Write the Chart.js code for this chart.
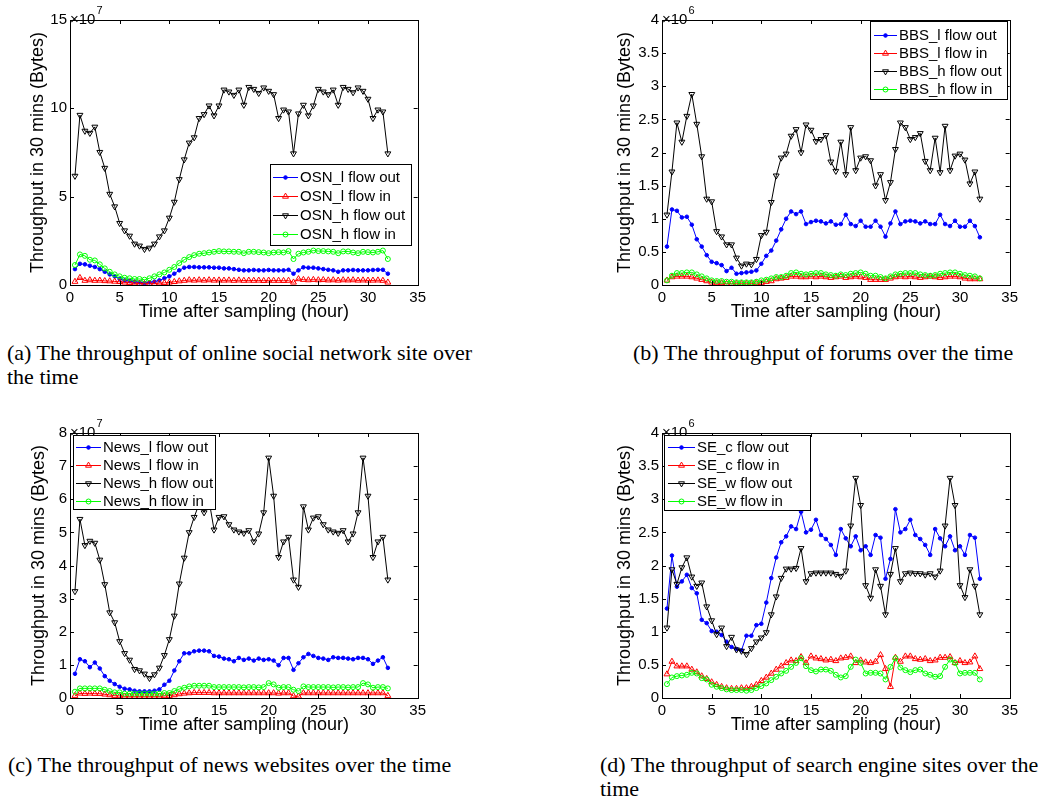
<!DOCTYPE html>
<html>
<head>
<meta charset="utf-8">
<title>Throughput over time</title>
<script src="https://cdn.jsdelivr.net/npm/chart.js@4.4.1/dist/chart.umd.min.js"></script>
<style>
  html, body { margin: 0; padding: 0; background: #fff; }
  body { width: 1053px; height: 798px; position: relative; overflow: hidden; }
  canvas { position: absolute; }
  .cap {
    position: absolute;
    font-family: "Liberation Serif", "Times New Roman", serif;
    font-size: 22px;
    line-height: 24px;
    color: #000;
    white-space: nowrap;
  }
</style>
</head>
<body>
<canvas id="chartA" width="430" height="330" style="left:0px;top:0px"></canvas>
<canvas id="chartB" width="430" height="330" style="left:592px;top:0px"></canvas>
<canvas id="chartC" width="430" height="330" style="left:0px;top:413px"></canvas>
<canvas id="chartD" width="430" height="330" style="left:592px;top:413px"></canvas>

<div class="cap" style="left:7px;top:341px">(a) The throughput of online social network site over<br>the time</div>
<div class="cap" style="left:633px;top:341px">(b) The throughput of forums over the time</div>
<div class="cap" style="left:8px;top:753px">(c) The throughput of news websites over the time</div>
<div class="cap" style="left:600px;top:753px">(d) The throughput of search engine sites over the<br>time</div>

<script>
// sampling times (hour)
const hours = [0.5,1,1.5,2,2.5,3,3.5,4,4.5,5,5.5,6,6.5,7,7.5,8,8.5,9,9.5,10,
  10.5,11,11.5,12,12.5,13,13.5,14,14.5,15,15.5,16,16.5,17,17.5,18,18.5,19,19.5,20,
  20.5,21,21.5,22,22.5,23,23.5,24,24.5,25,25.5,26,26.5,27,27.5,28,28.5,29,29.5,30,
  30.5,31,31.5,32];

const xTicks = [0, 5, 10, 15, 20, 25, 30, 35];
const osnTicks = [0, 5, 10, 15];
const bbsTicks = [0, 0.5, 1, 1.5, 2, 2.5, 3, 3.5, 4];
const newsTicks = [0, 1, 2, 3, 4, 5, 6, 7, 8];
const seTicks = [0, 0.5, 1, 1.5, 2, 2.5, 3, 3.5, 4];

// (a) online social network, x 10^7
const osnNames = ['OSN_l flow out', 'OSN_l flow in', 'OSN_h flow out', 'OSN_h flow in'];
const osnLOut = [0.9,1.2,1.17,1.09,1.02,0.9,0.75,0.6,0.49,0.34,
  0.26,0.23,0.19,0.15,0.11,0.15,0.19,0.26,0.38,0.49,
  0.64,0.83,0.98,1.02,1.02,1.0,1.0,1.0,0.98,0.98,
  0.94,0.94,0.9,0.86,0.83,0.83,0.85,0.83,0.83,0.85,
  0.83,0.83,0.83,0.86,0.64,0.83,1.0,0.98,0.98,0.94,
  0.9,0.86,0.83,0.75,0.83,0.83,0.85,0.83,0.83,0.83,
  0.85,0.86,0.86,0.64];
const osnLIn = [0.19,0.41,0.25,0.28,0.25,0.26,0.23,0.22,0.2,0.18,
  0.15,0.12,0.1,0.08,0.07,0.07,0.08,0.1,0.12,0.15,
  0.18,0.22,0.25,0.28,0.26,0.28,0.26,0.28,0.26,0.27,
  0.26,0.27,0.25,0.27,0.25,0.26,0.25,0.26,0.24,0.26,
  0.25,0.25,0.24,0.25,0.15,0.34,0.3,0.28,0.3,0.28,
  0.29,0.27,0.28,0.26,0.28,0.27,0.28,0.26,0.27,0.26,
  0.26,0.27,0.25,0.15];
const osnHOut = [6.17,9.62,8.72,8.6,8.95,7.52,6.62,5.15,4.44,3.5,
  3.08,2.78,2.33,2.22,2.03,2.1,2.33,2.74,3.08,3.8,
  4.7,5.98,7.1,8.05,8.35,9.44,9.66,10.15,9.59,10.15,
  11.05,10.94,10.75,11.05,10.19,11.2,11.09,10.86,11.17,10.98,
  10.79,9.44,9.92,9.81,7.44,9.7,10.19,9.59,10.15,11.09,
  10.94,10.79,11.05,10.19,11.2,11.09,10.9,11.17,10.98,10.53,
  9.44,9.92,9.81,7.44];
const osnHIn = [1.13,1.73,1.65,1.43,1.39,1.17,0.94,0.75,0.6,0.49,
  0.41,0.38,0.34,0.34,0.3,0.38,0.49,0.6,0.71,0.86,
  1.02,1.24,1.43,1.58,1.69,1.77,1.8,1.84,1.88,1.92,
  1.9,1.9,1.88,1.88,1.8,1.88,1.88,1.86,1.84,1.8,
  1.84,1.86,1.84,1.92,1.47,1.77,1.84,1.88,1.95,1.92,
  1.92,1.9,1.88,1.8,1.9,1.9,1.84,1.8,1.88,1.86,
  1.84,1.88,1.95,1.47];

// (b) forums, x 10^6
const bbsNames = ['BBS_l flow out', 'BBS_l flow in', 'BBS_h flow out', 'BBS_h flow in'];
const bbsLOut = [0.58,1.14,1.12,1.02,1.03,0.91,0.69,0.58,0.45,0.35,
  0.33,0.3,0.21,0.26,0.17,0.18,0.19,0.2,0.22,0.32,
  0.44,0.52,0.67,0.84,1.0,1.11,1.07,1.11,0.92,0.95,
  0.97,0.96,0.93,0.96,0.91,0.92,1.06,0.92,0.89,0.97,
  0.88,0.88,0.97,0.88,0.73,0.93,1.11,0.92,0.96,0.97,
  0.96,0.93,0.96,0.92,0.92,1.06,0.92,0.89,0.97,0.88,
  0.88,0.97,0.89,0.72];
const bbsLIn = [0.07,0.12,0.13,0.13,0.13,0.12,0.1,0.08,0.06,0.04,
  0.03,0.03,0.02,0.02,0.02,0.02,0.02,0.02,0.03,0.03,
  0.05,0.06,0.09,0.1,0.11,0.13,0.13,0.12,0.12,0.13,
  0.12,0.13,0.12,0.11,0.12,0.13,0.11,0.12,0.13,0.12,
  0.11,0.08,0.08,0.08,0.08,0.1,0.12,0.13,0.12,0.13,
  0.12,0.11,0.12,0.13,0.12,0.11,0.12,0.13,0.13,0.12,
  0.1,0.09,0.09,0.09];
const bbsHOut = [1.06,1.71,2.45,2.16,2.55,2.88,2.43,1.94,1.3,1.26,
  0.81,0.73,0.61,0.61,0.41,0.29,0.32,0.31,0.39,0.75,
  0.8,1.25,1.65,1.92,1.98,2.25,2.35,2.0,2.42,2.34,
  2.17,2.2,2.26,1.86,1.72,2.16,1.67,2.38,1.73,1.92,
  1.94,1.88,1.5,1.67,1.28,1.55,2.05,2.45,2.38,2.2,
  2.23,2.29,1.87,1.73,2.22,1.7,2.4,1.73,1.95,1.98,
  1.89,1.53,1.71,1.3];
const bbsHIn = [0.07,0.14,0.18,0.18,0.19,0.19,0.16,0.13,0.1,0.07,
  0.06,0.06,0.05,0.05,0.04,0.04,0.04,0.04,0.05,0.07,
  0.08,0.1,0.12,0.12,0.14,0.18,0.19,0.17,0.16,0.17,
  0.18,0.18,0.16,0.15,0.14,0.16,0.15,0.17,0.18,0.19,
  0.17,0.14,0.14,0.12,0.1,0.13,0.16,0.17,0.18,0.18,
  0.18,0.16,0.15,0.14,0.15,0.17,0.18,0.19,0.19,0.17,
  0.15,0.14,0.13,0.1];

// (c) news websites, x 10^7
const newsNames = ['News_l flow out', 'News_l flow in', 'News_h flow out', 'News_h flow in'];
const newsLOut = [0.73,1.17,1.11,0.93,1.07,0.89,0.66,0.52,0.42,0.34,
  0.28,0.26,0.22,0.2,0.2,0.2,0.22,0.26,0.4,0.52,
  0.83,1.11,1.35,1.35,1.41,1.43,1.43,1.41,1.27,1.25,
  1.19,1.17,1.11,1.21,1.15,1.19,1.13,1.19,1.15,1.17,
  1.13,0.99,1.21,1.21,0.85,1.05,1.23,1.33,1.27,1.21,
  1.19,1.15,1.23,1.21,1.21,1.19,1.17,1.21,1.21,1.17,
  1.03,1.13,1.23,0.91];
const newsLIn = [0.07,0.14,0.13,0.14,0.13,0.13,0.11,0.09,0.07,0.06,
  0.05,0.05,0.05,0.05,0.05,0.05,0.05,0.05,0.06,0.07,
  0.09,0.12,0.14,0.15,0.16,0.16,0.16,0.16,0.15,0.15,
  0.15,0.15,0.15,0.15,0.15,0.15,0.15,0.15,0.15,0.15,
  0.15,0.14,0.15,0.15,0.06,0.05,0.15,0.15,0.15,0.15,
  0.15,0.15,0.15,0.15,0.15,0.15,0.15,0.15,0.15,0.15,
  0.15,0.15,0.15,0.07];
const newsHOut = [3.22,5.4,4.61,4.74,4.68,4.17,3.43,2.58,2.28,1.71,
  1.35,1.15,0.87,0.83,0.73,0.6,0.71,0.91,1.29,1.77,
  2.48,3.45,4.23,5.0,5.46,5.86,5.6,5.96,5.08,5.46,
  5.48,5.24,5.08,5.02,4.98,5.06,4.72,4.96,5.6,7.25,
  6.1,4.25,4.72,4.86,3.57,3.35,5.78,5.08,5.44,5.48,
  5.24,5.08,5.02,4.98,5.06,4.72,4.96,5.6,7.25,6.1,
  4.25,4.72,4.86,3.57];
const newsHIn = [0.19,0.29,0.29,0.29,0.29,0.29,0.25,0.21,0.17,0.17,
  0.13,0.13,0.13,0.13,0.13,0.13,0.13,0.13,0.15,0.15,
  0.21,0.27,0.31,0.35,0.37,0.37,0.37,0.37,0.33,0.33,
  0.33,0.33,0.33,0.33,0.32,0.33,0.33,0.32,0.33,0.45,
  0.41,0.31,0.33,0.33,0.25,0.21,0.35,0.33,0.33,0.33,
  0.33,0.33,0.32,0.33,0.33,0.32,0.33,0.33,0.45,0.41,
  0.31,0.33,0.33,0.29];

// (d) search engines, x 10^6
const seNames = ['SE_c flow out', 'SE_c flow in', 'SE_w flow out', 'SE_w flow in'];
const seCOut = [1.35,2.15,1.68,1.76,1.86,1.66,1.58,1.18,1.13,1.01,
  1.0,0.95,0.85,0.77,0.74,0.72,0.94,0.94,1.1,1.12,
  1.44,1.81,2.12,2.35,2.44,2.59,2.55,2.81,2.5,2.54,
  2.69,2.46,2.4,2.31,2.16,2.55,2.41,2.29,2.44,2.23,
  2.29,2.16,2.46,2.42,1.8,2.1,2.85,2.5,2.55,2.69,
  2.46,2.4,2.31,2.16,2.55,2.41,2.29,2.44,2.23,2.29,
  2.16,2.46,2.42,1.8];
const seCIn = [0.36,0.55,0.48,0.48,0.48,0.43,0.39,0.33,0.29,0.24,
  0.2,0.17,0.15,0.14,0.14,0.15,0.15,0.17,0.2,0.26,
  0.31,0.37,0.43,0.48,0.53,0.57,0.56,0.62,0.53,0.63,
  0.6,0.59,0.57,0.58,0.56,0.6,0.61,0.63,0.53,0.57,
  0.54,0.53,0.55,0.65,0.44,0.17,0.61,0.55,0.63,0.63,
  0.59,0.58,0.59,0.56,0.57,0.61,0.61,0.62,0.53,0.56,
  0.53,0.54,0.63,0.44];
const seWOut = [1.06,1.94,1.72,1.97,2.12,1.83,1.69,1.74,1.38,1.17,
  0.96,1.06,0.78,0.92,0.73,0.71,0.66,0.75,0.85,0.91,
  0.99,1.26,1.53,1.81,1.95,1.95,1.96,2.26,1.76,1.88,
  1.89,1.89,1.89,1.89,1.87,1.84,1.92,2.6,3.32,2.91,
  1.7,1.51,1.94,1.69,1.26,1.87,2.26,1.76,1.88,1.89,
  1.88,1.88,1.86,1.88,1.83,1.92,2.6,3.32,2.91,1.7,
  1.52,1.94,1.69,1.26];
const seWIn = [0.21,0.31,0.33,0.34,0.35,0.38,0.37,0.3,0.28,0.2,
  0.17,0.15,0.13,0.12,0.12,0.12,0.11,0.12,0.15,0.18,
  0.22,0.27,0.32,0.37,0.41,0.47,0.53,0.6,0.48,0.42,
  0.4,0.43,0.43,0.41,0.35,0.31,0.33,0.47,0.58,0.53,
  0.37,0.38,0.38,0.37,0.28,0.47,0.6,0.46,0.42,0.39,
  0.42,0.43,0.37,0.35,0.32,0.33,0.47,0.58,0.53,0.37,
  0.38,0.38,0.38,0.28];

const SANS = '"Liberation Sans", Arial, Helvetica, sans-serif';

// matlab-ish line specs: '.-b', '^-r', 'v-k', 'o-g'
const styles = [
  { color: '#0000ff', pointStyle: 'circle', radius: 1.8, filled: true },
  { color: '#ff0000', pointStyle: 'triangle', radius: 3.4 },
  { color: '#000000', pointStyle: 'triangle', rotation: 180, radius: 3.4 },
  { color: '#00ff00', pointStyle: 'circle', radius: 2.5 }
];

// box, inward ticks, exponent and legend drawn on top
const matlabAxes = {
  id: 'matlabAxes',
  afterDraw(chart, args, opts) {
    const { ctx, chartArea: a, scales } = chart;
    const px = v => Math.round(v) + 0.5;
    ctx.save();
    ctx.strokeStyle = '#000';
    ctx.lineWidth = 1;

    ctx.strokeRect(px(a.left), px(a.top), Math.round(a.right - a.left), Math.round(a.bottom - a.top));

    const tl = 4;
    ctx.beginPath();
    scales.x.ticks.forEach(t => {
      const x = px(scales.x.getPixelForValue(t.value));
      ctx.moveTo(x, a.bottom); ctx.lineTo(x, a.bottom - tl);
      ctx.moveTo(x, a.top); ctx.lineTo(x, a.top + tl);
    });
    scales.y.ticks.forEach(t => {
      const y = px(scales.y.getPixelForValue(t.value));
      ctx.moveTo(a.left, y); ctx.lineTo(a.left + tl, y);
      ctx.moveTo(a.right, y); ctx.lineTo(a.right - tl, y);
    });
    ctx.stroke();

    // exponent label
    ctx.fillStyle = '#000';
    ctx.textAlign = 'left';
    ctx.textBaseline = 'alphabetic';
    ctx.font = '15px ' + SANS;
    ctx.fillText('\u00d710', a.left, a.top + 4);
    const w = ctx.measureText('\u00d710').width;
    ctx.font = '11px ' + SANS;
    ctx.fillText(opts.exponent, a.left + w + 1, a.top - 6);

    // legend
    const L = opts.legend;
    const bx = Math.round(a.left + L.left), by = Math.round(a.top + L.top);
    ctx.fillStyle = '#fff';
    ctx.fillRect(bx, by, L.width, L.height);
    ctx.strokeStyle = '#000';
    ctx.strokeRect(bx + 0.5, by + 0.5, L.width, L.height);
    chart.data.datasets.forEach((ds, i) => {
      const ry = Math.round(by + L.first + i * L.step) + 0.5;
      ctx.strokeStyle = ds.borderColor;
      ctx.lineWidth = 1;
      ctx.beginPath();
      ctx.moveTo(bx + L.l0, ry);
      ctx.lineTo(bx + L.l1, ry);
      ctx.stroke();
      ctx.fillStyle = ds.pointBackgroundColor;
      Chart.helpers.drawPoint(ctx, {
        pointStyle: ds.pointStyle,
        rotation: ds.pointRotation || 0,
        radius: ds.pointRadius,
        borderWidth: 1
      }, bx + (L.l0 + L.l1) / 2, ry);
      ctx.fillStyle = '#000';
      ctx.font = '15px ' + SANS;
      ctx.textBaseline = 'middle';
      ctx.fillText(ds.label, bx + L.tx, ry);
    });
    ctx.restore();
  }
};

function buildChart(id, names, series, yTicks, exponent, legend, yTitlePad) {
  const datasets = series.map((vals, i) => {
    const s = styles[i];
    return {
      label: names[i],
      data: hours.map((h, k) => ({ x: h, y: vals[k] })),
      borderColor: s.color,
      borderWidth: 1,
      pointStyle: s.pointStyle,
      pointRotation: s.rotation || 0,
      pointRadius: s.radius,
      pointBorderColor: s.color,
      pointBorderWidth: 1,
      pointBackgroundColor: s.filled ? s.color : 'rgba(0,0,0,0)',
      tension: 0,
      fill: false,
      order: 3 - i
    };
  });

  const tickFont = { family: SANS, size: 15 };
  const titleFont = { family: SANS, size: 18, lineHeight: 1 };

  return new Chart(document.getElementById(id), {
    type: 'line',
    data: { datasets },
    options: {
      responsive: false,
      animation: false,
      events: [],
      layout: { padding: { top: 20, right: 12, bottom: 9, left: 0 } },
      plugins: {
        legend: { display: false },
        tooltip: { enabled: false },
        matlabAxes: { exponent, legend }
      },
      scales: {
        x: {
          type: 'linear',
          min: xTicks[0],
          max: xTicks[xTicks.length - 1],
          afterBuildTicks: s => { s.ticks = xTicks.map(v => ({ value: v })); },
          afterFit: s => { s.height = 36; },
          grid: { display: false, drawTicks: false },
          border: { display: false },
          ticks: { color: '#000', font: tickFont, padding: 4, maxRotation: 0, autoSkip: false,
                   callback: v => String(v) },
          title: { display: true, text: 'Time after sampling (hour)', color: '#000',
                   font: titleFont, padding: { top: 0, bottom: 0 } }
        },
        y: {
          type: 'linear',
          min: yTicks[0],
          max: yTicks[yTicks.length - 1],
          afterBuildTicks: s => { s.ticks = yTicks.map(v => ({ value: v })); },
          afterFit: s => { s.width = 70; },
          grid: { display: false, drawTicks: false },
          border: { display: false },
          ticks: { color: '#000', font: tickFont, padding: 3, autoSkip: false,
                   callback: v => String(v) },
          title: { display: true, text: 'Throughput in 30 mins (Bytes)', color: '#000',
                   font: titleFont, padding: { top: yTitlePad, bottom: 0 } }
        }
      }
    },
    plugins: [matlabAxes]
  });
}

buildChart('chartA', osnNames, [osnLOut, osnLIn, osnHOut, osnHIn], osnTicks, '7',
  { left: 200, top: 144, width: 141, height: 81, first: 12.5, step: 19, l0: 3, l1: 28, tx: 30 }, 29);
buildChart('chartB', bbsNames, [bbsLOut, bbsLIn, bbsHOut, bbsHIn], bbsTicks, '6',
  { left: 208, top: 1, width: 137, height: 78, first: 14, step: 18, l0: 4, l1: 27, tx: 29 }, 24);
buildChart('chartC', newsNames, [newsLOut, newsLIn, newsHOut, newsHIn], newsTicks, '7',
  { left: 3, top: 2, width: 142, height: 74, first: 12, step: 18, l0: 3, l1: 28, tx: 30 }, 30);
buildChart('chartD', seNames, [seCOut, seCIn, seWOut, seWIn], seTicks, '6',
  { left: 2, top: 2, width: 146, height: 75, first: 12, step: 18, l0: 4, l1: 31, tx: 33 }, 24);
</script>
</body>
</html>
